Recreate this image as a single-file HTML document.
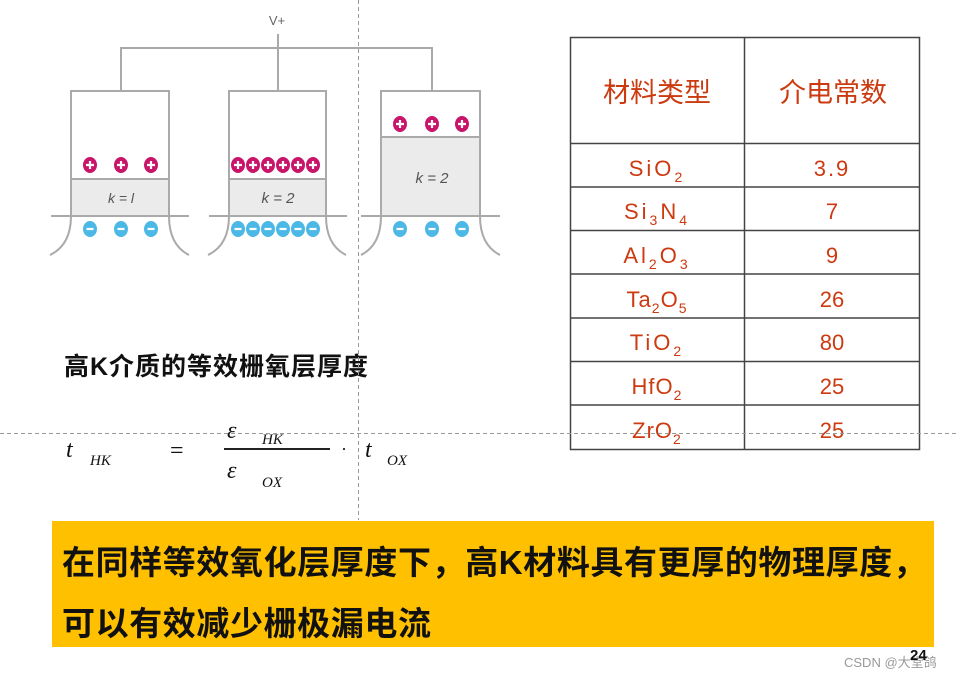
<!DOCTYPE html>
<html><head><meta charset="utf-8"><style>
body{margin:0;background:#fff;width:959px;height:678px;overflow:hidden;font-family:"Liberation Sans","Noto Sans CJK SC",sans-serif}
</style></head><body>
<svg width="959" height="678" viewBox="0 0 959 678" xmlns="http://www.w3.org/2000/svg" style="position:absolute;left:0;top:0">
<defs>
<g id="p"><ellipse cx="0" cy="0" rx="7" ry="8" fill="#c8156a"/><path d="M-4,0H4M0,-4V4" stroke="#fff" stroke-width="2.2"/></g>
<g id="m"><ellipse cx="0" cy="0" rx="7" ry="8" fill="#4cb8e6"/><path d="M-3.5,0H3.5" stroke="#fff" stroke-width="2.2"/></g>
</defs>
<g stroke="#aaa" stroke-width="2" fill="none">
<path d="M121,90V48H432V90M278,34V90"/>
<rect x="71" y="91" width="98" height="125" fill="#fff"/>
<rect x="229" y="91" width="97" height="125" fill="#fff"/>
<rect x="381" y="91" width="99" height="125" fill="#fff"/>
</g>
<rect x="72" y="180" width="96" height="36" fill="#ebebeb"/>
<rect x="230" y="180" width="95" height="36" fill="#ebebeb"/>
<rect x="382" y="138" width="97" height="78" fill="#ebebeb"/>
<g stroke="#aaa" stroke-width="2" fill="none">
<path d="M72,179H168M230,179H325M382,137H479"/>
<path d="M51,216H189M209,216H347M361,216H500"/>
<path d="M71,216Q71,245 50,255M169,216Q169,245 189,255M229,216Q229,245 208,255M326,216Q326,245 346,255M381,216Q381,245 361,255M480,216Q480,245 500,255"/>
</g>
<text x="277" y="25" font-size="13" fill="#666" text-anchor="middle">V+</text>
<text x="121" y="203" font-size="14" fill="#555" text-anchor="middle" font-style="italic">k = l</text>
<text x="278" y="203" font-size="15" fill="#555" text-anchor="middle" font-style="italic">k = 2</text>
<text x="432" y="183" font-size="15" fill="#555" text-anchor="middle" font-style="italic">k = 2</text>
<use href="#p" x="90" y="165"/><use href="#p" x="121" y="165"/><use href="#p" x="151" y="165"/>
<use href="#p" x="238" y="165"/><use href="#p" x="253" y="165"/><use href="#p" x="268" y="165"/><use href="#p" x="283" y="165"/><use href="#p" x="298" y="165"/><use href="#p" x="313" y="165"/>
<use href="#p" x="400" y="124"/><use href="#p" x="432" y="124"/><use href="#p" x="462" y="124"/>
<use href="#m" x="90" y="229"/><use href="#m" x="121" y="229"/><use href="#m" x="151" y="229"/>
<use href="#m" x="238" y="229"/><use href="#m" x="253" y="229"/><use href="#m" x="268" y="229"/><use href="#m" x="283" y="229"/><use href="#m" x="298" y="229"/><use href="#m" x="313" y="229"/>
<use href="#m" x="400" y="229"/><use href="#m" x="432" y="229"/><use href="#m" x="462" y="229"/>

<g stroke="#444" stroke-width="1.5" fill="none">
<rect x="570.5" y="37.5" width="349" height="412"/>
<path d="M744.5,37V449"/>
<path d="M570,143.5H920M570,187H920M570,230.5H920M570,274H920M570,318H920M570,361.5H920M570,405H920"/>
</g>
<g fill="#cc3a10" font-size="22" text-anchor="middle" font-family="'Liberation Sans','Noto Sans CJK SC',sans-serif">
<text x="657" y="102" font-size="27">材料类型</text>
<text x="833" y="102" font-size="27">介电常数</text>
<text x="657" y="176" letter-spacing="3">SiO<tspan font-size="14" dy="6">2</tspan></text>
<text x="657" y="219" letter-spacing="3">Si<tspan font-size="14" dy="6">3</tspan><tspan dy="-6">N</tspan><tspan font-size="14" dy="6">4</tspan></text>
<text x="657" y="263" letter-spacing="3">Al<tspan font-size="14" dy="6">2</tspan><tspan dy="-6">O</tspan><tspan font-size="14" dy="6">3</tspan></text>
<text x="657" y="307" letter-spacing="1">Ta<tspan font-size="14" dy="6">2</tspan><tspan dy="-6">O</tspan><tspan font-size="14" dy="6">5</tspan></text>
<text x="657" y="350" letter-spacing="3">TiO<tspan font-size="14" dy="6">2</tspan></text>
<text x="657" y="394" letter-spacing="1">HfO<tspan font-size="14" dy="6">2</tspan></text>
<text x="657" y="438" letter-spacing="1">ZrO<tspan font-size="14" dy="6">2</tspan></text>
<text x="832" y="176" letter-spacing="2">3.9</text>
<text x="832" y="219">7</text>
<text x="832" y="263">9</text>
<text x="832" y="307">26</text>
<text x="832" y="350">80</text>
<text x="832" y="394">25</text>
<text x="832" y="438">25</text>
</g>

<text x="64" y="375" font-size="25" font-weight="bold" fill="#111" letter-spacing="1">高K介质的等效栅氧层厚度</text>
<g font-family="'Liberation Serif',serif" font-style="italic" fill="#111">
<text x="66" y="457" font-size="24">t</text>
<text x="90" y="465" font-size="15">HK</text>
<text x="170" y="458" font-size="24" font-style="normal">=</text>
<text x="227" y="438" font-size="24">ε</text>
<text x="262" y="444" font-size="15">HK</text>
<text x="227" y="478" font-size="24">ε</text>
<text x="262" y="487" font-size="15">OX</text>
<text x="341" y="455" font-size="18" font-style="normal">·</text>
<text x="365" y="457" font-size="24">t</text>
<text x="387" y="465" font-size="15">OX</text>
</g>
<path d="M224,449H330" stroke="#222" stroke-width="2"/>

<g stroke="#999" stroke-width="1" stroke-dasharray="4,3">
<path d="M358.5,0V520M0,433.5H959"/>
</g>

<rect x="52" y="521" width="882" height="126" fill="#FFC000"/>
<text x="62" y="574" font-size="33" font-weight="bold" fill="#111" letter-spacing="0.6">在同样等效氧化层厚度下，高K材料具有更厚的物理厚度，</text>
<text x="62" y="635" font-size="33" font-weight="bold" fill="#111" letter-spacing="0.6">可以有效减少栅极漏电流</text>
<text x="844" y="667" font-size="13" fill="#999">CSDN @大堂鸽</text>
<text x="910" y="660" font-size="15" font-weight="bold" fill="#111">24</text>
</svg>
</body></html>
